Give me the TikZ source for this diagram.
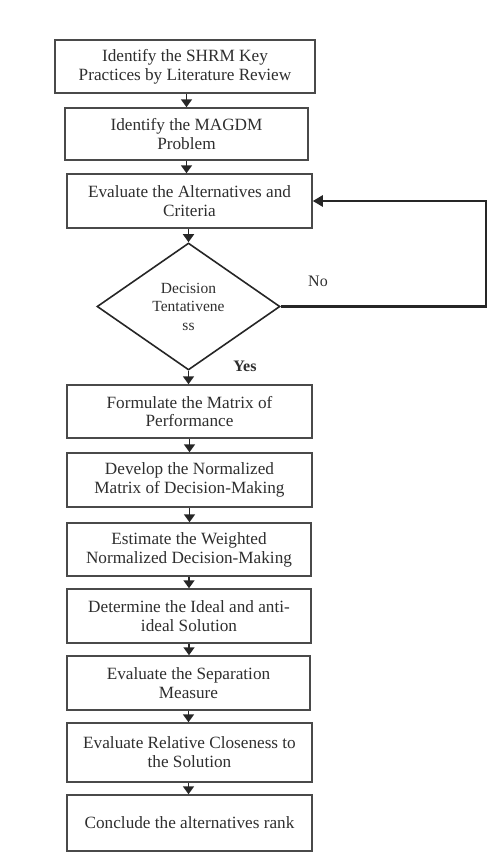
\documentclass[tikz,border=0pt]{standalone}
\usepackage{fontspec}
\setmainfont{Liberation Serif}
\usetikzlibrary{arrows.meta,shapes.geometric}
\definecolor{txt}{HTML}{2E2E2E}
\definecolor{brd}{HTML}{4A4A4A}
\tikzset{
  box/.style={draw=brd, line width=1.5pt, rectangle, inner sep=0pt, align=center,
    text=txt, font=\fontsize{17.2}{18.8}\selectfont},
  dec/.style={draw=black!85, line width=1.6pt, diamond, inner sep=0pt, align=center,
    text=txt, font=\fontsize{15.5}{18.5}\selectfont},
  arr/.style={draw=black!85, line width=1.8pt, -{Triangle[width=11pt,length=8pt]}},
  fb/.style={draw=black!85, line width=2.4pt, -{Triangle[width=11pt,length=10pt]}},
  lbl/.style={text=txt, font=\fontsize{16}{18}\selectfont}
}
\begin{document}
\begin{tikzpicture}[x=1pt,y=-1pt]
\useasboundingbox (0,0) rectangle (499,854);
\node[box, minimum width=260pt, minimum height=53pt] (b1) at (185,66.5)
  {Identify the SHRM Key\\Practices by Literature Review};
\node[box, minimum width=243pt, minimum height=52pt] (b2) at (186.5,134)
  {Identify the MAGDM\\Problem};
\node[box, minimum width=245pt, minimum height=54pt] (b3) at (189.5,201)
  {Evaluate the Alternatives and\\Criteria};
\node[dec, minimum width=183pt, minimum height=127pt, aspect=1.44] (d) at (188.5,306.5)
  {Decision\\Tentativene\\ss};
\node[box, minimum width=245pt, minimum height=53pt] (b4) at (189.5,411.5)
  {Formulate the Matrix of\\Performance};
\node[box, minimum width=245pt, minimum height=54pt] (b5) at (189.5,480)
  {Develop the Normalized\\Matrix of Decision-Making};
\node[box, minimum width=244pt, minimum height=53pt] (b6) at (189,549.5)
  {Estimate the Weighted\\Normalized Decision-Making};
\node[box, minimum width=244pt, minimum height=54pt] (b7) at (189,616)
  {Determine the Ideal and anti-\\ideal Solution};
\node[box, minimum width=243pt, minimum height=54pt] (b8) at (188.5,683)
  {Evaluate the Separation\\Measure};
\node[box, minimum width=245pt, minimum height=59pt] (b9) at (189.5,752.5)
  {Evaluate Relative Closeness to\\the Solution};
\node[box, minimum width=245pt, minimum height=56pt] (b10) at (189.5,823)
  {Conclude the alternatives rank};
\node[lbl] (no) at (318,281) {No};
\node[lbl, font=\bfseries\fontsize{16}{18}\selectfont] (yes) at (245,366) {Yes};
\coordinate (fbc) at (486,306.5);
\draw[arr] (b2.north |- b1.south) -- (b2.north);
\draw[arr] (b2.south) -- (b2.south |- b3.north);
\draw[arr] (d.north |- b3.south) -- (d.north);
\draw[arr] (d.south) -- (d.south |- b4.north);
\draw[arr] (b5.north |- b4.south) -- (b5.north);
\draw[arr] (b5.south) -- (b5.south |- b6.north);
\draw[arr] (b6.south) -- (b6.south |- b7.north);
\draw[arr] (b7.south) -- (b7.south |- b8.north);
\draw[arr] (b8.south) -- (b8.south |- b9.north);
\draw[arr] (b8.south |- b9.south) -- (b8.south |- b10.north);
\draw[fb] (d.east) -- (fbc) |- (b3.east);
\end{tikzpicture}
\end{document}
